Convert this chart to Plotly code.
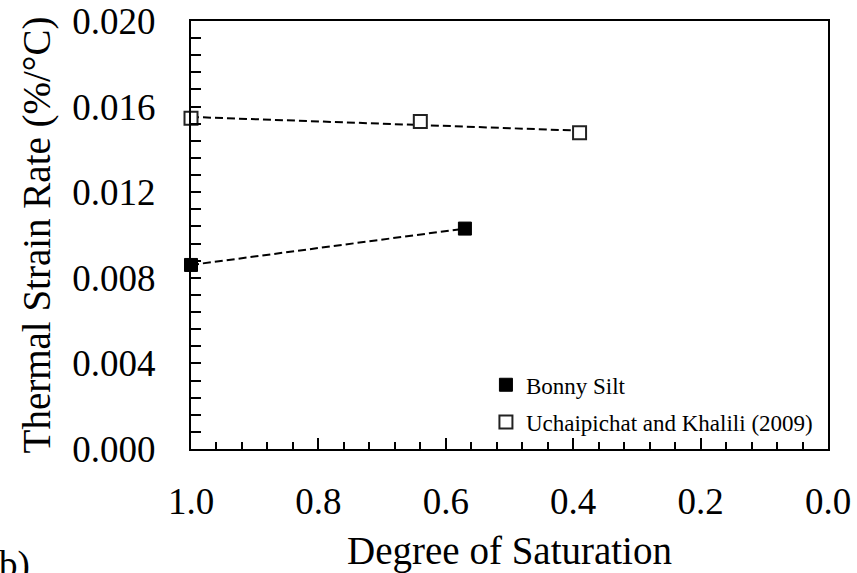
import numpy as np
import plotly.graph_objects as go

# Degree of saturation and thermal strain rate (%/°C)
bonny_sr = [1.0, 0.57]
bonny_rate = [0.0086, 0.0103]

uk_sr = [1.0, 0.64, 0.39]
uk_rate = [0.01545, 0.01530, 0.01478]

x_ticks = [1.0, 0.8, 0.6, 0.4, 0.2, 0.0]
y_ticks = [0.000, 0.004, 0.008, 0.012, 0.016, 0.020]

FONT = "Liberation Serif"
DASH = "8px,4px"

fig = go.Figure()

# linear trend for the Uchaipichat and Khalili data
coef = np.polyfit(uk_sr, uk_rate, 1)
fit_x = np.array([max(uk_sr), min(uk_sr)])
fig.add_trace(go.Scatter(x=fit_x, y=np.polyval(coef, fit_x), mode="lines",
                         line=dict(color="black", width=2, dash=DASH),
                         showlegend=False, hoverinfo="skip"))
# trend for Bonny Silt (two points)
fig.add_trace(go.Scatter(x=bonny_sr, y=bonny_rate, mode="lines",
                         line=dict(color="black", width=2, dash=DASH),
                         showlegend=False, hoverinfo="skip"))

fig.add_trace(go.Scatter(x=bonny_sr, y=bonny_rate, mode="markers", name="Bonny Silt",
                         legend="legend", cliponaxis=False,
                         marker=dict(symbol="square", size=13, color="black",
                                     line=dict(color="black", width=1))))
fig.add_trace(go.Scatter(x=uk_sr, y=uk_rate, mode="markers",
                         name="Uchaipichat and Khalili (2009)", legend="legend2",
                         cliponaxis=False,
                         marker=dict(symbol="square", size=13, color="white",
                                     line=dict(color="#222222", width=2))))

legend_style = dict(xanchor="left", yanchor="middle", bgcolor="rgba(0,0,0,0)",
                    font=dict(size=23, family=FONT, color="black"), itemwidth=30)

fig.update_layout(
    width=857, height=573,
    margin=dict(l=191, r=29, t=21, b=124, autoexpand=False),
    paper_bgcolor="white", plot_bgcolor="white",
    font=dict(family=FONT, color="black", size=37),
    legend=dict(x=0.463, y=0.15, **legend_style),
    legend2=dict(x=0.463, y=0.063, **legend_style),
    xaxis=dict(range=[1.0, 0.0], tickvals=x_ticks, ticktext=[f"{v:.1f}" for v in x_ticks],
               ticks="inside", ticklen=11, tickwidth=2, tickcolor="black",
               minor=dict(dtick=0.04, ticks="inside", ticklen=7, tickwidth=2, tickcolor="black"),
               showline=True, linecolor="black", linewidth=2, mirror=True,
               showgrid=False, zeroline=False, ticklabelstandoff=19, automargin=False,
               tickfont=dict(family=FONT, size=37, color="black"),
               title=dict(text="Degree of Saturation", standoff=18,
                          font=dict(family=FONT, size=39, color="black"))),
    yaxis=dict(range=[0, 0.020], tickvals=y_ticks, ticktext=[f"{v:.3f}" for v in y_ticks],
               ticks="inside", ticklen=10, tickwidth=2, tickcolor="black",
               minor=dict(dtick=0.0008, ticks="inside", ticklen=10, tickwidth=2, tickcolor="black"),
               showline=True, linecolor="black", linewidth=2, mirror=True,
               showgrid=False, zeroline=False, ticklabelstandoff=26, automargin=False,
               tickfont=dict(family=FONT, size=37, color="black"),
               title=dict(text="Thermal Strain Rate (%/°C)", standoff=10,
                          font=dict(family=FONT, size=39, color="black"))),
)

fig.add_annotation(text="b)", xref="paper", yref="paper", x=-0.305, y=-0.217,
                   xanchor="left", yanchor="top", showarrow=False,
                   font=dict(size=37, family=FONT, color="black"))

fig.write_html("out.html")
